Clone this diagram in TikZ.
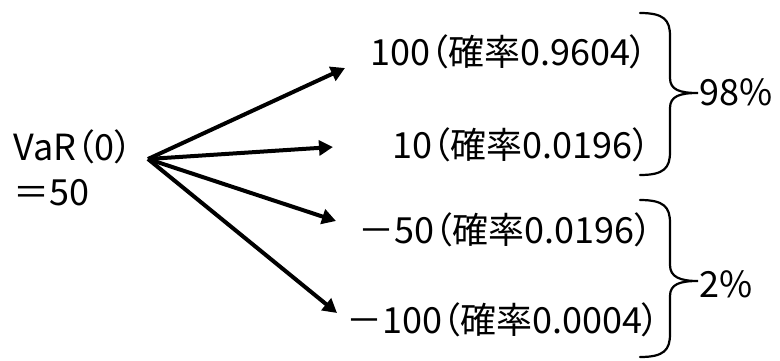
\documentclass[tikz,border=0pt]{standalone}
\usepackage{fontspec}
\setmainfont{Noto Sans CJK JP}[RawFeature=+palt]
\usetikzlibrary{arrows.meta}
\begin{document}
\begin{tikzpicture}[
		x=0.5pt, y=-0.5pt,
		every node/.style = {inner sep=0pt, font=\fontsize{18}{22.5}\selectfont},
		val/.style   = {anchor=base west},
		pct/.style   = {anchor=base west},
		branch/.style = {-{Triangle[length=7pt,width=7.5pt]}, line width=2pt},
		curly/.style = {line width=1.1pt, line cap=round}]
		
		\useasboundingbox (0,0) rectangle (780,360);
		
		% starting value
		\node [anchor=west, align=left] (var) at (13,168) {VaR（0）\\＝50};
		\coordinate (src) at (148,159);
		
		% outcomes
		\node [val] (o1) at (370,65) {100（確率0.9604）};
		\node [val] (o2) at (392,158) {10（確率0.0196）};
		\node [val] (o3) at (358,243) {－50（確率0.0196）};
		\node [val] (o4) at (346,333) {－100（確率0.0004）};
		
		% arrow tips in front of each outcome
		\coordinate (t1) at (345,68);
		\coordinate (t2) at (333,147);
		\coordinate (t3) at (336,221);
		\coordinate (t4) at (337,313);
		
		\foreach \i in {1,...,4}
		\draw[branch] (src) -- (t\i);
		
		% braces and the summed probabilities
		\draw[curly] (640,13) .. controls (664,13) and (670,20) .. (670,36) -- (670,78)
		.. controls (670,90) and (680,93) .. (698,93)
		.. controls (680,93) and (670,96) .. (670,108) -- (670,152)
		.. controls (670,168) and (664,175) .. (640,175);
		\node [pct] (p1) at (699,105) {98\%};
		
		\draw[curly] (640,200) .. controls (664,200) and (670,207) .. (670,223) -- (670,265)
		.. controls (670,277) and (680,281) .. (698,281)
		.. controls (680,281) and (670,284) .. (670,296) -- (670,334)
		.. controls (670,350) and (664,357) .. (640,357);
		\node [pct] (p2) at (699,297) {2\%};
		
\end{tikzpicture}
\end{document}
